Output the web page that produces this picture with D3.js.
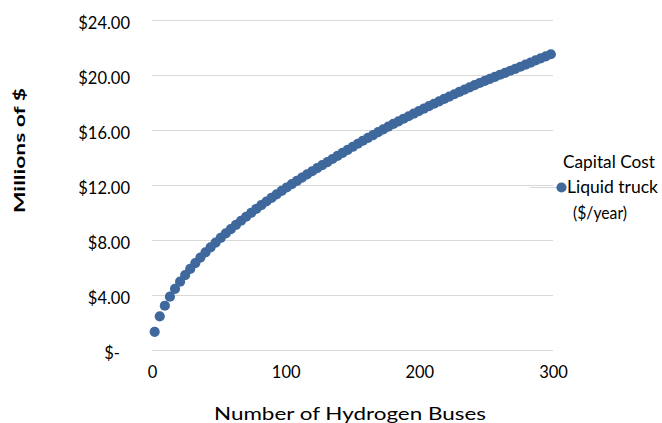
<!DOCTYPE html>
<html>
<head>
<meta charset="utf-8">
<script src="https://cdn.jsdelivr.net/npm/d3@7"></script>
<style>
  html, body { margin: 0; padding: 0; background: #ffffff; }
  svg { display: block; }
  text { font-family: Lato, "Open Sans", sans-serif; fill: #000; }
</style>
</head>
<body>
<svg id="chart" width="662" height="423"></svg>
<script>
// ---- data ----
const buses = [2, 5.8, 9.6, 13.4, 17.2, 21, 24.8, 28.6, 32.4, 36.2, 40, 43.8, 47.6, 51.4, 55.2, 59, 62.8, 66.6, 70.4, 74.2,
  78, 81.8, 85.6, 89.4, 93.2, 97, 100.8, 104.6, 108.4, 112.2, 116, 119.8, 123.6, 127.4, 131.2, 135, 138.8, 142.6, 146.4, 150.2,
  154, 157.8, 161.6, 165.4, 169.2, 173, 176.8, 180.6, 184.4, 188.2, 192, 195.8, 199.6, 203.4, 207.2, 211, 214.8, 218.6, 222.4, 226.2,
  230, 233.8, 237.6, 241.4, 245.2, 249, 252.8, 256.6, 260.4, 264.2, 268, 271.8, 275.6, 279.4, 283.2, 287, 290.8, 294.6, 298.4];
const capitalCost = [1.32, 2.45, 3.22, 3.88, 4.45, 4.97, 5.45, 5.90, 6.32, 6.72, 7.10, 7.46, 7.81, 8.15, 8.48, 8.79, 9.10, 9.40, 9.69, 9.98,
  10.26, 10.53, 10.80, 11.06, 11.32, 11.57, 11.82, 12.06, 12.30, 12.54, 12.77, 13.00, 13.23, 13.45, 13.67, 13.89, 14.12, 14.34, 14.56, 14.78,
  15.00, 15.22, 15.43, 15.63, 15.84, 16.04, 16.24, 16.44, 16.63, 16.82, 17.00, 17.19, 17.37, 17.55, 17.73, 17.91, 18.08, 18.26, 18.43, 18.60,
  18.77, 18.94, 19.10, 19.26, 19.42, 19.57, 19.72, 19.87, 20.02, 20.16, 20.31, 20.45, 20.60, 20.75, 20.90, 21.06, 21.21, 21.36, 21.51];
const yTicks = [0, 4, 8, 12, 16, 20, 24];
const xTicks = [0, 100, 200, 300];
const seriesName = ["Capital Cost", "Liquid truck", "($/year)"];
const xTitle = "Number of Hydrogen Buses";
const yTitle = "Millions  of  $";

// ---- layout ----
const svg = d3.select("#chart");
const x = d3.scaleLinear().domain([0, 300]).range([152, 553]);
const y = d3.scaleLinear().domain([0, 24]).range([350, 20]);
const color = "#3f689d";
const gridColor = "#d9d9d9";

// gridlines + y labels
const yAxis = d3.axisLeft(y)
  .tickValues(yTicks)
  .tickSize(-(x.range()[1] - x.range()[0]))
  .tickPadding(22)
  .tickFormat(d => d === 0 ? "$-" : "$" + d.toFixed(2));
const gy = svg.append("g").attr("transform", `translate(${x.range()[0]},0)`).call(yAxis);
gy.select(".domain").remove();
gy.selectAll(".tick line").attr("stroke", gridColor).attr("stroke-width", 1);
gy.selectAll(".tick text")
  .attr("font-size", 16.5)
  .attr("dy", "0.5em")
  .attr("x", d => d === 0 ? -32 : -22);

// x labels
const xAxis = d3.axisBottom(x).tickValues(xTicks).tickSize(0).tickPadding(16).tickFormat(d3.format("d"));
const gx = svg.append("g").attr("transform", `translate(0,${y(0)})`).call(xAxis);
gx.select(".domain").remove();
gx.selectAll(".tick text").attr("font-size", 16.5);

// points
svg.append("g").selectAll("circle")
  .data(buses.map((b, i) => [b, capitalCost[i]]))
  .join("circle")
  .attr("cx", d => x(d[0]))
  .attr("cy", d => y(d[1]))
  .attr("r", 5.1)
  .attr("fill", color);

// axis titles
svg.append("text")
  .attr("x", 214).attr("y", 420)
  .attr("font-size", 17.5)
  .attr("textLength", 272)
  .attr("lengthAdjust", "spacingAndGlyphs")
  .text(xTitle);
svg.append("text")
  .attr("transform", "translate(25,213) rotate(-90)")
  .attr("font-size", 16)
  .attr("font-weight", "bold")
  .attr("textLength", 125)
  .attr("lengthAdjust", "spacingAndGlyphs")
  .text(yTitle);

// legend
const ly = 187.5;
svg.append("line").attr("x1", 530).attr("x2", 561).attr("y1", ly).attr("y2", ly)
  .attr("stroke", gridColor).attr("stroke-width", 1);
svg.append("circle").attr("cx", 561.5).attr("cy", ly).attr("r", 5.1).attr("fill", color);
const lx = [563, 567, 573];
const lyy = [162, 187, 213];
const lw = [92, 91, 54];
svg.append("g").selectAll("text").data(seriesName).join("text")
  .attr("x", (d, i) => lx[i]).attr("y", (d, i) => lyy[i])
  .attr("dy", "0.36em")
  .attr("font-size", 17)
  .attr("textLength", (d, i) => lw[i])
  .attr("lengthAdjust", "spacingAndGlyphs")
  .text(d => d);
</script>
</body>
</html>
